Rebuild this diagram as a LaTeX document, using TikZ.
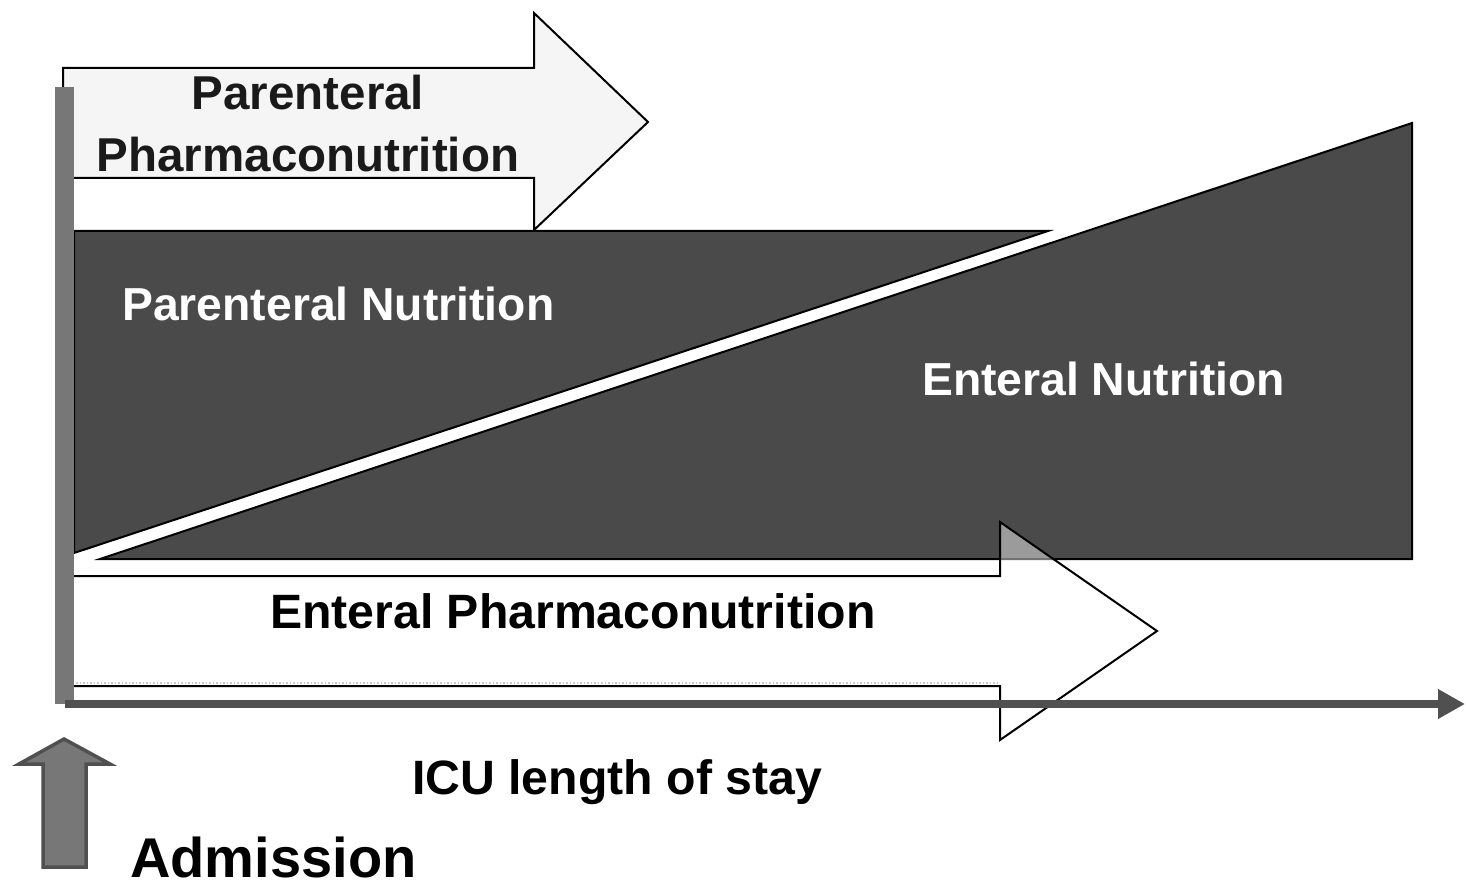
\documentclass[tikz,border=0pt]{standalone}
\usepackage{fontspec}
\setmainfont{Liberation Sans}
\usetikzlibrary{arrows.meta}
\definecolor{darkfill}{HTML}{4A4A4A}
\definecolor{barc}{HTML}{777777}
\definecolor{axisc}{HTML}{505050}
\definecolor{pale}{HTML}{F5F5F5}
\definecolor{txt}{HTML}{1A1A1A}
\tikzset{
  outline/.style={draw=black, line width=2pt, line join=miter},
  lbl/.style={font=\bfseries\fontsize{47.5}{56}\selectfont, inner sep=0pt, text=txt},
  wlbl/.style={lbl, text=white, font=\bfseries\fontsize{46.3}{56}\selectfont},
  blbl/.style={lbl, text=black, font=\bfseries\fontsize{48.2}{56}\selectfont},
}
\begin{document}
\begin{tikzpicture}[x=1pt,y=-1pt]
\useasboundingbox (0,0) rectangle (1466,885);
% Parenteral pharmaconutrition arrow
\draw[outline, fill=pale] (63,68) -- (534,68) -- (534,13) -- (648,122) -- (534,230) -- (534,178) -- (63,178) -- cycle;
% Parenteral nutrition (decreasing)
\draw[outline, fill=darkfill] (74,231) -- (1048,231) -- (74,553) -- cycle;
% Enteral nutrition (increasing)
\draw[outline, fill=darkfill] (100,559) -- (1412,123) -- (1412,559) -- cycle;
% Enteral pharmaconutrition arrow
\draw[outline, fill=white, fill opacity=0.45] (74,576) -- (1000,576) -- (1000,522) -- (1157,631) -- (1000,740) -- (1000,686) -- (74,686);
\draw[gray!45, dotted, line width=1.5pt] (76,683) -- (998,683);
% admission bar
\fill[barc] (55,87) rectangle (74,704);
% time axis
\coordinate (ax0) at (65,704);
\coordinate (ax1) at (1465,704);
\draw[axisc, line width=8pt, -{Triangle[length=27pt,width=28pt]}] (ax0) -- (ax1);
% admission arrow
\draw[draw=axisc, line width=3.5pt, fill=barc, line join=miter] (43,867) -- (43,764) -- (19,764) -- (64,739) -- (110,764) -- (86,764) -- (86,867) -- cycle;
% labels
\node[lbl, anchor=base] (pp1) at (308,110) {Parenteral};
\node[lbl, anchor=base] (pp2) at (308,172) {Pharmaconutrition};
\node[wlbl, anchor=base west] (pn) at (122,320) {Parenteral Nutrition};
\node[wlbl, anchor=base west] (en) at (922,395) {Enteral Nutrition};
\node[blbl, anchor=base west] (ep) at (270,628) {Enteral Pharmaconutrition};
\node[blbl, anchor=base west] (icu) at (412,794) {ICU length of stay};
\node[blbl, anchor=base west, font=\bfseries\fontsize{56}{64}\selectfont] (adm) at (130,877) {Admission};
\end{tikzpicture}
\end{document}
